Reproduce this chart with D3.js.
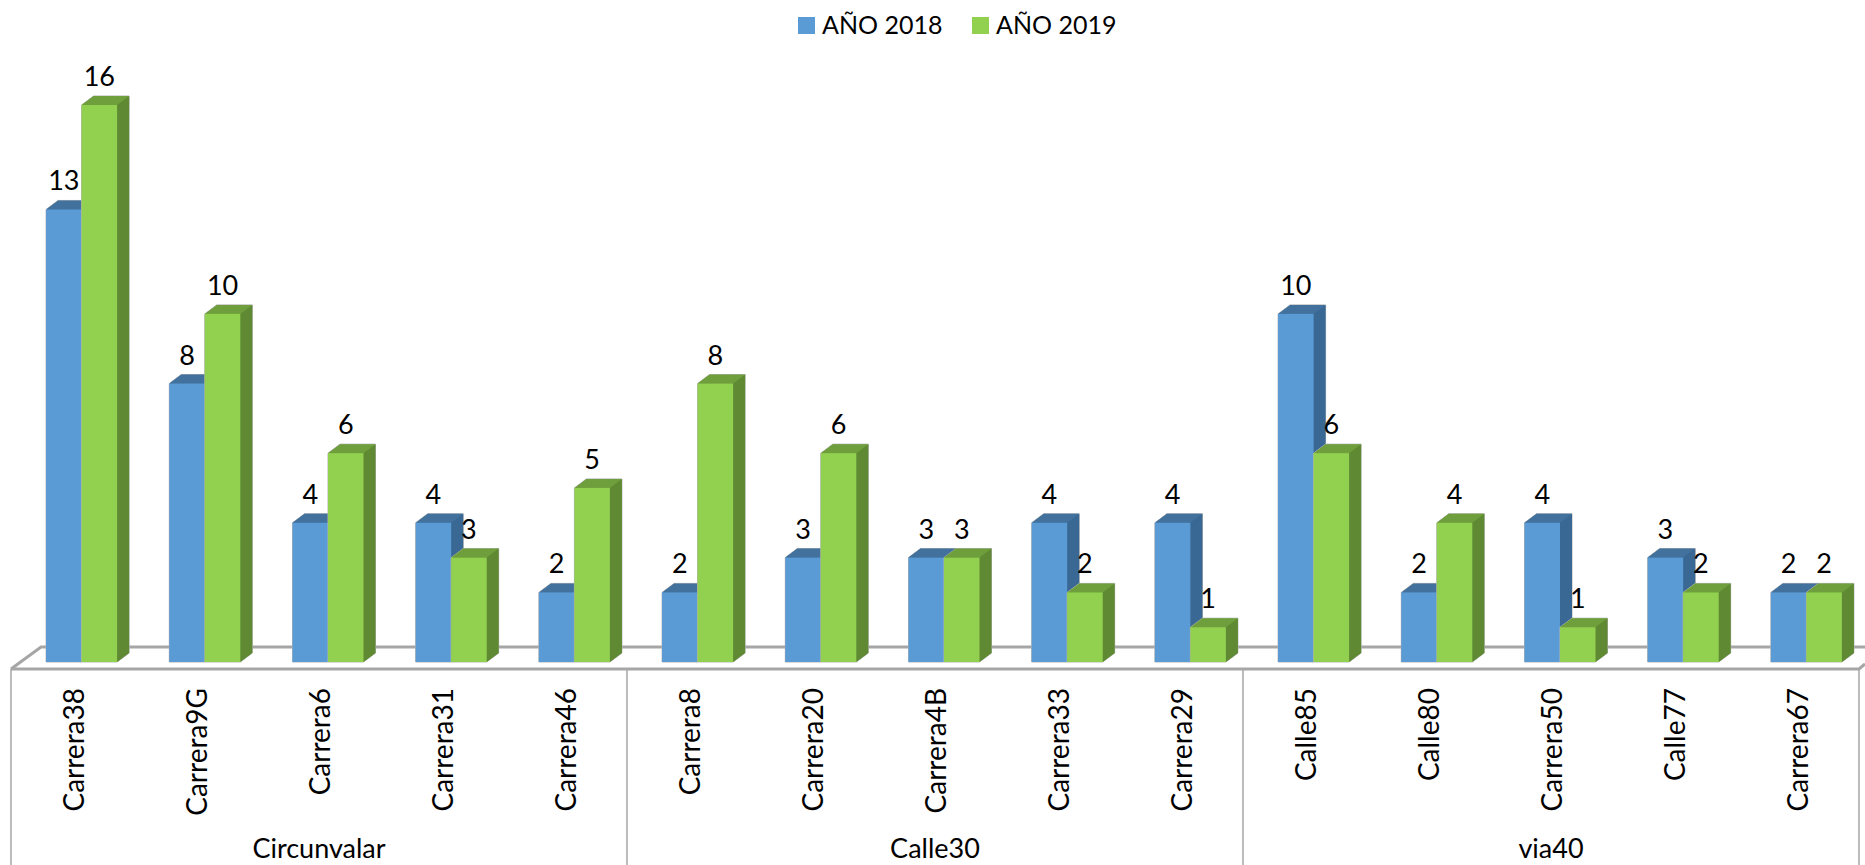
<!DOCTYPE html>
<html><head><meta charset="utf-8">
<script src="https://cdn.jsdelivr.net/npm/d3@7"></script>
<style>
html,body{margin:0;padding:0;background:#fff}
svg{display:block}
text{font-family:Lato,"Open Sans",sans-serif;fill:#000}
</style></head><body>
<svg id="c" width="1865" height="865"></svg>
<script>
const categories=["Carrera38","Carrera9G","Carrera6","Carrera31","Carrera46","Carrera8","Carrera20","Carrera4B","Carrera33","Carrera29","Calle85","Calle80","Carrera50","Calle77","Carrera67"];
const values2018=[13,8,4,4,2,2,3,3,4,4,10,2,4,3,2];
const values2019=[16,10,6,3,5,8,6,3,2,1,6,4,1,2,2];
const seriesNames=["AÑO 2018","AÑO 2019"];
const groupNames=["Circunvalar","Calle30","via40"];
const groupSizes=[5,5,5];
const palette=[{front:"#5b9bd5",top:"#41719c",side:"#386893"},{front:"#92d050",top:"#6f9f3c",side:"#5f8a33"}];

const svg=d3.select("#c");
const y=d3.scaleLinear().domain([0,16]).range([662,105]);
const band=d3.scaleBand().domain(categories).range([11,1859]).paddingInner(0).paddingOuter(0);
const barW=35.5,dx=12,dy=9,shift=9;
const mid=c=>band(c)+band.bandwidth()/2+shift;
const grey="#a6a6a6",edge="#b5b5b5";

// floor
const g0=svg.append("g");
g0.append("path").attr("d","M11,669L41,647L1865,647").attr("fill","none").attr("stroke",grey).attr("stroke-width",3);
g0.append("path").attr("d","M11,669L1859,669L1865,664").attr("fill","none").attr("stroke",grey).attr("stroke-width",3);

// bars
const bars=svg.append("g");
categories.forEach((c,i)=>{
  [values2018[i],values2019[i]].forEach((v,s)=>{
    const x0=mid(c)-barW+s*barW, x1=x0+barW, yt=y(v), yb=y(0), p=palette[s];
    const g=bars.append("g");
    g.append("path").attr("d",`M${x0},${yb}L${x0},${yt}L${x0+dx},${yt-dy}L${x1+dx},${yt-dy}L${x1+dx},${yb-dy}L${x1},${yb}Z`)
      .attr("fill",p.side).attr("stroke",edge).attr("stroke-width",1);
    g.append("path").attr("d",`M${x1},${yt}L${x1+dx},${yt-dy}L${x1+dx},${yb-dy}L${x1},${yb}Z`).attr("fill",p.side);
    g.append("path").attr("d",`M${x0},${yt}L${x0+dx},${yt-dy}L${x1+dx},${yt-dy}L${x1},${yt}Z`).attr("fill",p.top);
    g.append("rect").attr("x",x0).attr("y",yt).attr("width",barW).attr("height",yb-yt).attr("fill",p.front);
  });
});

// value labels
const labels=svg.append("g").attr("font-size",27).attr("text-anchor","middle");
categories.forEach((c,i)=>{
  [values2018[i],values2019[i]].forEach((v,s)=>{
    labels.append("text").attr("x",mid(c)-barW/2+s*barW).attr("y",y(v)-19).text(v);
  });
});

// axis frame and category labels
const axisG=svg.append("g");
let k=0;
const seps=[band(categories[0])];
groupNames.forEach((n,gi)=>{
  const first=categories[k],last=categories[k+groupSizes[gi]-1];
  const a=band(first),b=band(last)+band.bandwidth();
  seps.push(b);
  axisG.append("text").attr("x",(a+b)/2).attr("y",858).attr("font-size",27).attr("text-anchor","middle").text(n);
  k+=groupSizes[gi];
});
axisG.selectAll("line").data(seps).join("line")
  .attr("x1",d=>d).attr("x2",d=>d).attr("y1",669).attr("y2",865).attr("stroke",grey).attr("stroke-width",1.5);
axisG.selectAll("text.cat").data(categories).join("text").attr("class","cat")
  .attr("font-size",28).attr("text-anchor","end")
  .attr("transform",d=>`translate(${mid(d)+2},688) rotate(-90)`).text(d=>d);

// legend
const leg=svg.append("g");
const legX=[798,972];
seriesNames.forEach((n,i)=>{
  leg.append("rect").attr("x",legX[i]).attr("y",17).attr("width",17).attr("height",17).attr("fill",palette[i].front);
  leg.append("text").attr("x",legX[i]+24).attr("y",34).attr("font-size",25).text(n);
});
</script></body></html>
